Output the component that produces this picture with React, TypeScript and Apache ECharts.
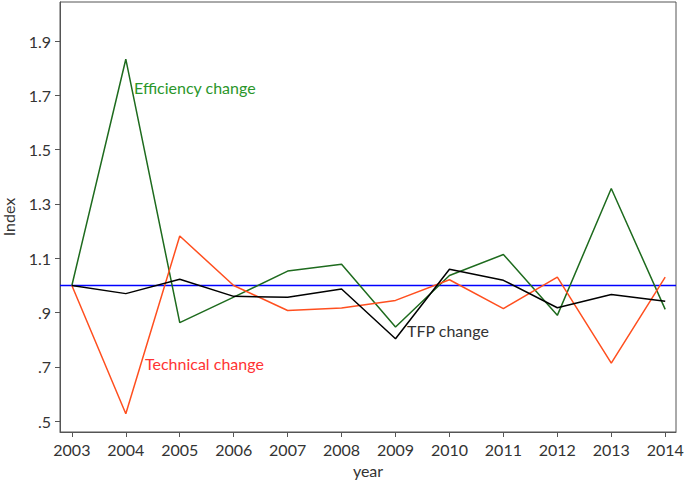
import React, { useEffect, useRef } from "react";
import * as echarts from "echarts";

const years = [2003, 2004, 2005, 2006, 2007, 2008, 2009, 2010, 2011, 2012, 2013, 2014];
const efficiencyChange = [1.0, 1.833, 0.863, 0.957, 1.053, 1.078, 0.847, 1.037, 1.114, 0.89, 1.357, 0.912];
const technicalChange = [1.0, 0.528, 1.182, 1.0, 0.908, 0.917, 0.945, 1.021, 0.915, 1.031, 0.714, 1.031];
const tfpChange = [1.0, 0.97, 1.023, 0.96, 0.957, 0.987, 0.804, 1.06, 1.019, 0.918, 0.967, 0.942];
const yTicks = [0.5, 0.7, 0.9, 1.1, 1.3, 1.5, 1.7, 1.9];
const referenceLevel = 1.0;

const FONT = "Lato";

export default function App() {
  const ref = useRef<HTMLDivElement>(null);
  useEffect(() => {
    if (!ref.current) return;
    const chart = echarts.init(ref.current, null, { renderer: "svg" });
    const pairs = (vals: number[]) => years.map((y, i) => [y, vals[i]]);
    chart.setOption({
      animation: false,
      backgroundColor: "#ffffff",
      grid: {
        left: 60,
        top: 2,
        right: 9,
        bottom: 49,
        containLabel: false,
        outerBoundsMode: "none",
        show: true,
        borderColor: "#555555",
        borderWidth: 1,
      },
      xAxis: {
        type: "value",
        min: 2002.78,
        max: 2014.2,
        name: "year",
        nameLocation: "middle",
        nameGap: 30,
        nameTextStyle: { fontFamily: FONT, fontSize: 16, color: "#333333" },
        axisLine: { show: true, lineStyle: { color: "#555555" } },
        axisTick: { show: true, length: 5, lineStyle: { color: "#555555" }, customValues: years },
        axisLabel: {
          customValues: years,
          fontFamily: FONT,
          fontSize: 16,
          color: "#333333",
          margin: 9,
          formatter: (v: number) => String(v),
        },
        splitLine: { show: false },
      },
      yAxis: {
        type: "value",
        min: 0.4606,
        max: 2.0436,
        name: "Index",
        nameLocation: "middle",
        nameGap: 44,
        nameTextStyle: { fontFamily: FONT, fontSize: 16, color: "#333333" },
        axisLine: { show: true, lineStyle: { color: "#555555" } },
        axisTick: { show: true, length: 5, lineStyle: { color: "#555555" }, customValues: yTicks },
        axisLabel: {
          customValues: yTicks,
          fontFamily: FONT,
          fontSize: 16,
          color: "#333333",
          margin: 9,
          formatter: (v: number) => {
            const s = v.toFixed(1);
            return s.startsWith("0") ? s.slice(1) : s;
          },
        },
        splitLine: { show: false },
      },
      series: [
        {
          name: "Reference",
          type: "line",
          data: [[2002.78, referenceLevel], [2014.2, referenceLevel]],
          symbol: "none",
          lineStyle: { color: "#0000ff", width: 1.5 },
          z: 1,
        },
        {
          name: "Efficiency change",
          type: "line",
          data: pairs(efficiencyChange),
          symbol: "none",
          lineStyle: { color: "#1e6b1e", width: 1.5 },
          z: 2,
        },
        {
          name: "Technical change",
          type: "line",
          data: pairs(technicalChange),
          symbol: "none",
          lineStyle: { color: "#ff4f1f", width: 1.5 },
          z: 3,
        },
        {
          name: "TFP change",
          type: "line",
          data: pairs(tfpChange),
          symbol: "none",
          lineStyle: { color: "#000000", width: 1.5 },
          z: 4,
        },
      ],
      graphic: [
        {
          type: "text",
          left: 134,
          top: 79,
          style: { text: "Efficiency change", fill: "#2a962a", font: `16px ${FONT}` },
        },
        {
          type: "text",
          left: 145,
          top: 355,
          style: { text: "Technical change", fill: "#ff3333", font: `16px ${FONT}` },
        },
        {
          type: "text",
          left: 407,
          top: 322,
          style: { text: "TFP change", fill: "#333333", font: `16px ${FONT}` },
        },
      ],
    });
    return () => chart.dispose();
  }, []);
  return <div ref={ref} style={{ width: 685, height: 481, position: "absolute", left: 0, top: 0 }} />;
}
